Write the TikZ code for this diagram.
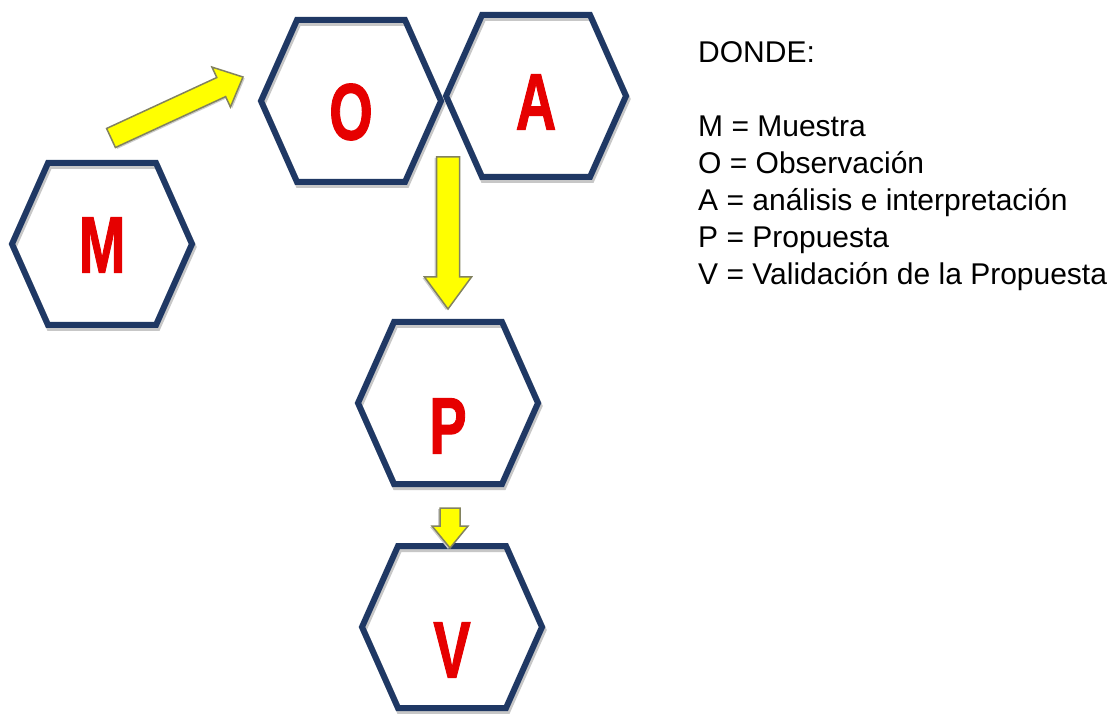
\documentclass[tikz,border=0pt]{standalone}
\usepackage{fontspec}
\usepackage{graphicx}
\setmainfont{Liberation Sans}
\newfontfamily\hexfont[FakeBold=1.5]{Liberation Sans}
\usetikzlibrary{calc}
\definecolor{hexnavy}{RGB}{31,56,100}
\definecolor{hexred}{RGB}{230,0,0}
\definecolor{arrowyellow}{RGB}{255,255,0}
\definecolor{arrowedge}{RGB}{130,130,95}
\tikzset{
  hexnode/.style={rectangle, minimum width=180pt, minimum height=162pt, inner sep=0pt, outer sep=0pt,
    font=\hexfont\fontsize{80}{80}\selectfont\bfseries, text=hexred},
  hexline/.style={draw=hexnavy, line width=6pt, line join=miter},
  hexshadow/.style={draw=black!22, line width=6pt, line join=miter},
  blockarrow/.style={fill=arrowyellow, draw=arrowedge, line width=1.5pt, line join=miter},
  legend/.style={anchor=base west, inner sep=0pt, font=\fontsize{30}{36}\selectfont},
}
% label lowered by #1 (pt) below the hexagon centre
\newcommand\hexlabel[2]{\raisebox{\dimexpr-28.5pt-#1pt\relax}[0pt][0pt]{\scalebox{0.7}[1]{#2}}}
\newcommand\hexpath[2]{([shift={(#1)}]#2.west) -- ([shift={(#1)},xshift=36pt]#2.north west) -- ([shift={(#1)},xshift=-36pt]#2.north east) -- ([shift={(#1)}]#2.east) -- ([shift={(#1)},xshift=-36pt]#2.south east) -- ([shift={(#1)},xshift=36pt]#2.south west) -- cycle}
% block arrow from coordinate #1 to coordinate #2; shaft width #3, head width #4, head length #5
\newcommand\blockarrow[5]{%
  \path (#1); \pgfgetlastxy{\bax}{\bay}%
  \path (#2); \pgfgetlastxy{\bbx}{\bby}%
  \pgfmathsetmacro\baang{atan2(\bby-\bay,\bbx-\bax)}%
  \pgfmathsetmacro\balen{veclen(\bbx-\bax,\bby-\bay)}%
  \begin{scope}[shift={(\bax,\bay)}, rotate=\baang]
    \fill[black!20] (1,-#3/2-2) -- ({\balen-#5+1},-#3/2-2) -- ({\balen-#5+1},-#4/2-2) -- ({\balen+1},-2) -- ({\balen-#5+1},#4/2-2) -- ({\balen-#5+1},#3/2-2) -- (1,#3/2-2) -- cycle;
    \draw[blockarrow] (0,-#3/2) -- ({\balen-#5},-#3/2) -- ({\balen-#5},-#4/2) -- (\balen,0) -- ({\balen-#5},#4/2) -- ({\balen-#5},#3/2) -- (0,#3/2) -- cycle;
  \end{scope}
}
\begin{document}
\begin{tikzpicture}[x=1pt,y=1pt]
  \fill[white] (0,0) rectangle (1118,713);
  \useasboundingbox (0,0) rectangle (1118,713);

  % hexagon nodes
  \node[hexnode] (M) at (102,469) {\hexlabel{0}{M}};
  \node[hexnode] (O) at (351,612) {\hexlabel{10}{O}};
  \node[hexnode] (A) at (536,617) {\hexlabel{5}{A}};
  \node[hexnode] (P) at (448,310) {\hexlabel{22}{P}};
  \node[hexnode] (V) at (452,86) {\hexlabel{22}{V}};

  % shadows
  \draw[hexshadow] \hexpath{1.5,-3}{M};
  \draw[hexshadow] \hexpath{1.5,-3}{O};
  \draw[hexshadow] \hexpath{1.5,-3}{A};
  \draw[hexshadow] \hexpath{1.5,-3}{P};
  \draw[hexshadow] \hexpath{1.5,-3}{V};
  % outlines
  \draw[hexline] \hexpath{0,0}{M};
  \draw[hexline] \hexpath{0,0}{O};
  \draw[hexline] \hexpath{0,0}{A};
  \draw[hexline] \hexpath{0,0}{P};
  \draw[hexline] \hexpath{0,0}{V};

  % arrow end points
  \coordinate (mo-s) at ([xshift=9pt,yshift=25pt]M.north);
  \coordinate (mo-t) at ([xshift=-18pt,yshift=24pt]O.west);
  \coordinate (ap-s) at ($(P.north |- O.south)+(0,25)$);
  \coordinate (ap-t) at ([yshift=13pt]P.north);
  \coordinate (pv-s) at ([xshift=2pt,yshift=-24pt]P.south);
  \coordinate (pv-t) at ($(pv-s |- V.north)+(0,-2)$);

  \blockarrow{mo-s}{mo-t}{21}{44}{24}
  \blockarrow{ap-s}{ap-t}{23}{47}{32}
  \blockarrow{pv-s}{pv-t}{20}{36}{22}

  % legend
  \node[legend] (l0) at (698,650) {DONDE:};
  \node[legend] (l1) at (698,576) {M = Muestra};
  \node[legend] (l2) at (698,539) {O = Observación};
  \node[legend] (l3) at (698,502) {A = análisis e interpretación};
  \node[legend] (l4) at (698,465) {P = Propuesta};
  \node[legend] (l5) at (698,428) {V = Validación de la Propuesta};
\end{tikzpicture}
\end{document}
